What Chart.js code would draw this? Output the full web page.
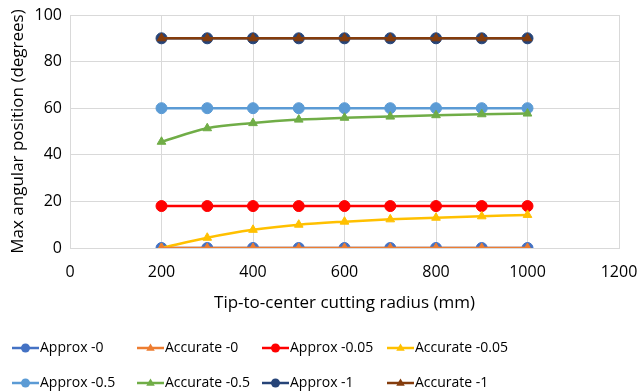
<!DOCTYPE html>
<html>
<head>
<meta charset="utf-8">
<script src="https://cdn.jsdelivr.net/npm/chart.js@4"></script>
<style>
  html, body { margin: 0; padding: 0; background: #fff; }
  #wrap { width: 639px; height: 392px; position: relative; }
</style>
</head>
<body>
<div id="wrap"><canvas id="c" width="639" height="392"></canvas></div>
<script>
const radii = [200, 300, 400, 500, 600, 700, 800, 900, 1000];
const approx0    = [0, 0, 0, 0, 0, 0, 0, 0, 0];
const accurate0  = [0, 0, 0, 0, 0, 0, 0, 0, 0];
const approx005  = [18, 18, 18, 18, 18, 18, 18, 18, 18];
const accurate005 = [0, 4.4, 7.8, 10.0, 11.3, 12.3, 13.0, 13.6, 14.2];
const approx05   = [60, 60, 60, 60, 60, 60, 60, 60, 60];
const accurate05 = [45.6, 51.4, 53.6, 55.1, 55.9, 56.4, 57.0, 57.4, 57.7];
const approx1    = [90, 90, 90, 90, 90, 90, 90, 90, 90];
const accurate1  = [90, 90, 90, 90, 90, 90, 90, 90, 90];
const seriesNames = ['Approx -0', 'Accurate -0', 'Approx -0.05', 'Accurate -0.05',
                     'Approx -0.5', 'Accurate -0.5', 'Approx -1', 'Accurate -1'];
const xTicks = [0, 200, 400, 600, 800, 1000, 1200];
const yTicks = [0, 20, 40, 60, 80, 100];

const seriesValues = [approx0, accurate0, approx005, accurate005, approx05, accurate05, approx1, accurate1];
const colors = ['#4472C4', '#ED7D31', '#FF0000', '#FFC000', '#5B9BD5', '#70AD47', '#264478', '#843C0C'];
const FONT = '"Open Sans", "Liberation Sans", sans-serif';

const datasets = seriesValues.map((vals, i) => {
  const isApprox = i % 2 === 0;
  return {
    label: seriesNames[i],
    data: radii.map((x, k) => ({ x: x, y: vals[k] })),
    borderColor: colors[i],
    backgroundColor: colors[i],
    pointBackgroundColor: colors[i],
    pointBorderColor: colors[i],
    pointBorderWidth: 1,
    pointStyle: isApprox ? 'circle' : 'triangle',
    pointRadius: isApprox ? 5.5 : 5,
    borderWidth: 2.5,
    cubicInterpolationMode: 'monotone',
    fill: false,
    order: isApprox ? 1 : 0
  };
});

const legendPlugin = {
  id: 'excelLegend',
  afterDraw(chart) {
    const ctx = chart.ctx;
    const colX = [12, 137, 262, 387];
    const rowY = [348, 383];
    ctx.save();
    ctx.font = '14px ' + FONT;
    ctx.textBaseline = 'middle';
    ctx.textAlign = 'left';
    chart.data.datasets.forEach((ds, i) => {
      const x0 = colX[i % 4];
      const y = rowY[Math.floor(i / 4)];
      const len = 27;
      ctx.strokeStyle = ds.borderColor;
      ctx.lineWidth = 2.5;
      ctx.beginPath();
      ctx.moveTo(x0, y);
      ctx.lineTo(x0 + len, y);
      ctx.stroke();
      ctx.fillStyle = ds.borderColor;
      const cx = x0 + len / 2;
      if (ds.pointStyle === 'circle') {
        ctx.beginPath();
        ctx.arc(cx, y, 4.5, 0, Math.PI * 2);
        ctx.fill();
      } else {
        const r = 4.5;
        ctx.beginPath();
        ctx.moveTo(cx, y - r);
        ctx.lineTo(cx + r * 0.95, y + r * 0.6);
        ctx.lineTo(cx - r * 0.95, y + r * 0.6);
        ctx.closePath();
        ctx.fill();
      }
      ctx.fillStyle = '#000000';
      ctx.fillText(ds.label, x0 + len + 1, y);
    });
    ctx.restore();
  }
};

new Chart(document.getElementById('c'), {
  type: 'line',
  data: { datasets: datasets },
  options: {
    responsive: false,
    animation: false,
    devicePixelRatio: 1,
    layout: { padding: { left: 0, right: 20, top: 15, bottom: 74 } },
    plugins: {
      legend: { display: false },
      tooltip: { enabled: false },
      title: { display: false }
    },
    scales: {
      x: {
        type: 'linear',
        min: xTicks[0],
        max: xTicks[xTicks.length - 1],
        afterBuildTicks(scale) { scale.ticks = xTicks.map(v => ({ value: v })); },
        afterFit(scale) { scale.height = 70; },
        grid: { color: '#d9d9d9', lineWidth: 1, drawTicks: true, tickLength: 15, tickColor: 'rgba(0,0,0,0)' },
        border: { display: true, color: '#d9d9d9', width: 1 },
        ticks: { color: '#000', font: { family: FONT, size: 16 }, padding: 0, maxRotation: 0,
                 callback: v => String(v) },
        title: {
          display: true,
          text: 'Tip-to-center cutting radius (mm)',
          color: '#000',
          font: { family: FONT, size: 17 },
          padding: { top: 0, bottom: 5 }
        }
      },
      y: {
        type: 'linear',
        min: yTicks[0],
        max: yTicks[yTicks.length - 1],
        afterBuildTicks(scale) { scale.ticks = yTicks.map(v => ({ value: v })); },
        afterFit(scale) { scale.width = 70; },
        grid: { color: '#d9d9d9', lineWidth: 1, drawTicks: true, tickLength: 8, tickColor: 'rgba(0,0,0,0)' },
        border: { display: true, color: '#d9d9d9', width: 1 },
        ticks: { color: '#000', font: { family: FONT, size: 16 }, padding: 0,
                 callback: v => String(v) },
        title: {
          display: true,
          text: 'Max angular position (degrees)',
          color: '#000',
          font: { family: FONT, size: 17 },
          padding: { top: 8, bottom: 0 }
        }
      }
    }
  },
  plugins: [legendPlugin]
});
</script>
</body>
</html>
